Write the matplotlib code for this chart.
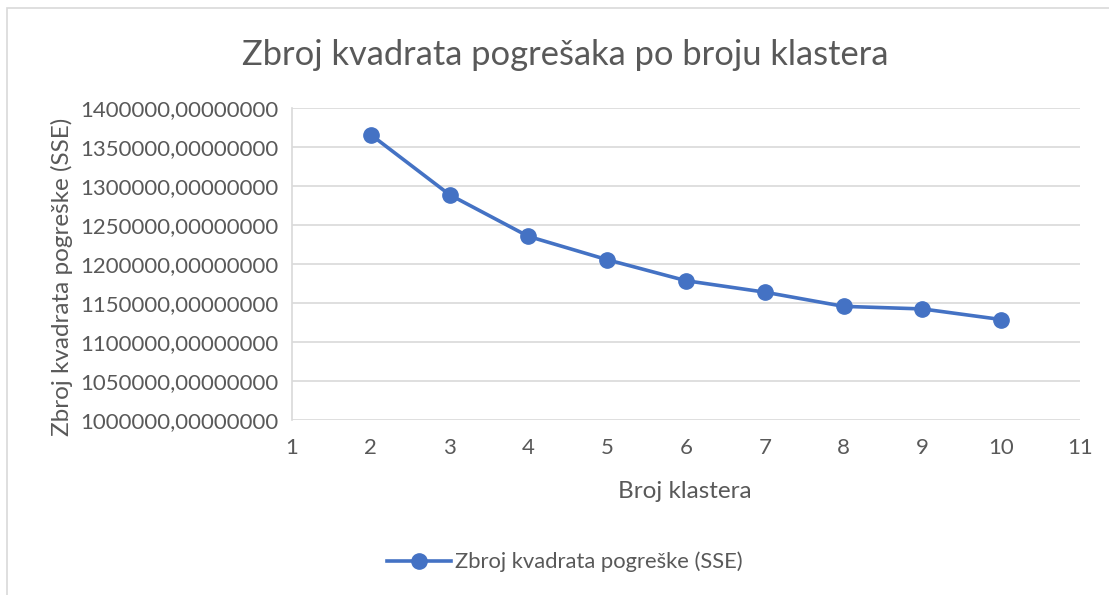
import matplotlib.pyplot as plt
from matplotlib.patches import Rectangle
from matplotlib.ticker import FuncFormatter, MultipleLocator

plt.rcParams["font.family"] = ["Lato", "DejaVu Sans"]

clusters = [2, 3, 4, 5, 6, 7, 8, 9, 10]
sse = [1365800, 1288800, 1235400, 1205500, 1178600, 1163900, 1145700, 1142400, 1128800]
series_name = "Zbroj kvadrata pogreške (SSE)"

TEXT = "#595959"
BLUE = "#4472C4"
GRID = "#D9D9D9"

fig = plt.figure(figsize=(11.09, 5.95), dpi=100)
ax = fig.add_axes([292 / 1109, 1 - 420 / 595, (1080 - 292) / 1109, (420 - 108) / 595])

ax.plot(clusters, sse, color=BLUE, lw=2.6, marker="o", ms=11, label=series_name)

ax.set_xlim(1, 11)
ax.set_ylim(1000000, 1400000)
ax.xaxis.set_major_locator(MultipleLocator(1))
ax.yaxis.set_major_locator(MultipleLocator(50000))
ax.yaxis.set_major_formatter(FuncFormatter(lambda v, p: f"{v:.8f}".replace(".", ",")))
ax.grid(axis="y", color=GRID, lw=1.2)
ax.set_axisbelow(True)
for s in ["top", "right", "bottom"]:
    ax.spines[s].set_visible(False)
ax.spines["left"].set_color(GRID)
ax.spines["left"].set_linewidth(1.2)
ax.tick_params(length=0, labelsize=16, colors=TEXT, pad=10)
ax.tick_params(axis="x", pad=13)

fig.text(565 / 1109, 1 - 55 / 595, "Zbroj kvadrata pogrešaka po broju klastera",
         ha="center", va="center", fontsize=24.8, color=TEXT)
fig.text(685 / 1109, 1 - 492 / 595, "Broj klastera", ha="center", va="center",
         fontsize=17.5, color=TEXT)
fig.text(62 / 1109, 1 - 277 / 595, "Zbroj kvadrata pogreške (SSE)", ha="center",
         va="center", rotation=90, fontsize=17.5, color=TEXT)

leg = fig.legend(loc="center", bbox_to_anchor=(565 / 1109, 1 - 562 / 595), frameon=False,
                 fontsize=15.8, handlelength=2.9, handletextpad=0.2)
for t in leg.get_texts():
    t.set_color(TEXT)

fig.patches.append(Rectangle((7 / 1109, -0.1), 1.2, 1 - 8 / 595 + 0.1, transform=fig.transFigure,
                             fill=False, edgecolor=GRID, lw=1.2))

fig.savefig("out.png", dpi=100)
